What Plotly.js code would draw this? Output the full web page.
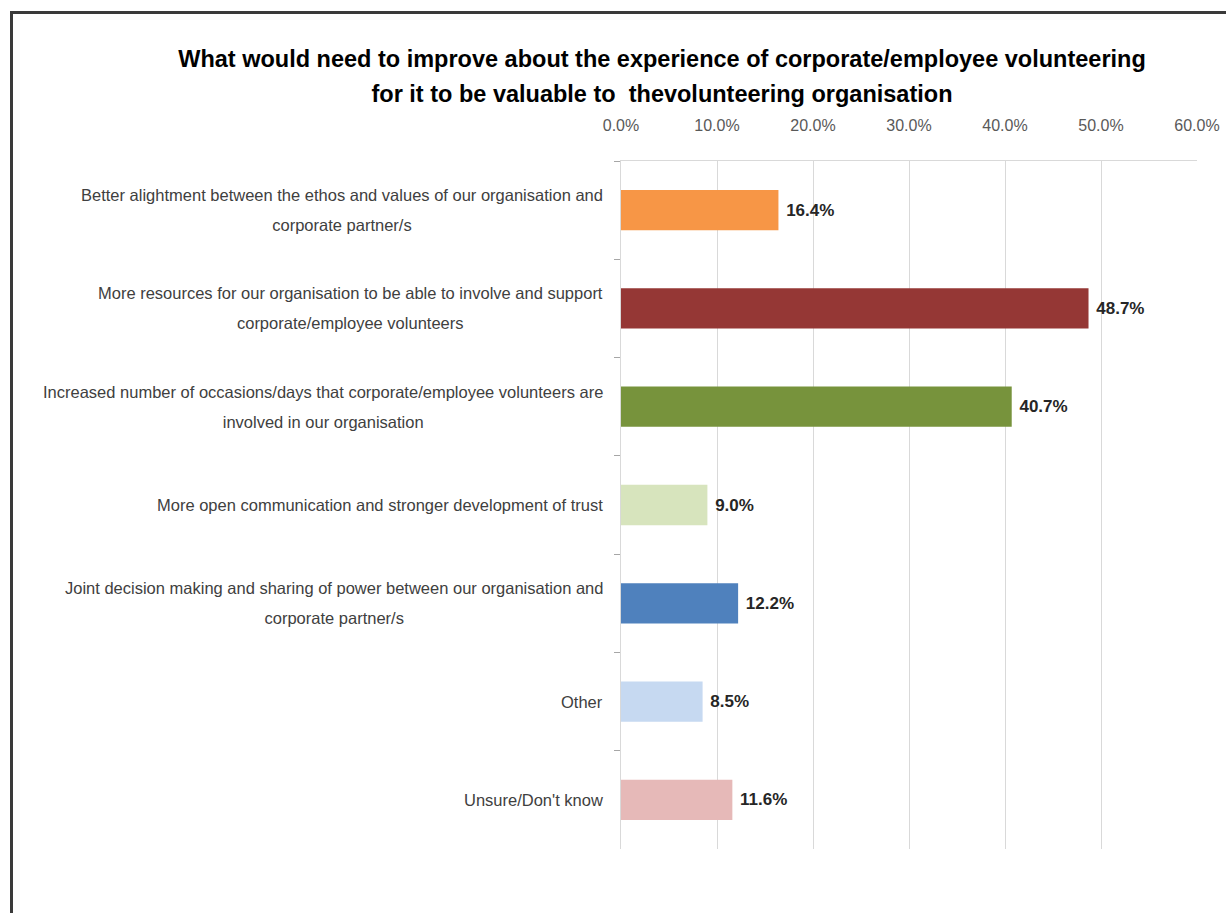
<!DOCTYPE html>
<html>
<head>
<meta charset="utf-8">
<script src="https://cdn.plot.ly/plotly-3.0.1.min.js"></script>
<style>
  html, body { margin: 0; padding: 0; background: #ffffff; }
  #chart { width: 1226px; height: 913px; }
</style>
</head>
<body>
<div id="chart"></div>
<script>
const categories = [
  "Better alightment between the ethos and values of our organisation and<br>corporate partner/s",
  "More resources for our organisation to be able to involve and support<br>corporate/employee volunteers",
  "Increased number of occasions/days that corporate/employee volunteers are<br>involved in our organisation",
  "More open communication and stronger development of trust",
  "Joint decision making and sharing of power between our organisation and<br>corporate partner/s",
  "Other",
  "Unsure/Don't know"
];
const values = [16.4, 48.7, 40.7, 9.0, 12.2, 8.5, 11.6];
const barColors = ["#F79646", "#953735", "#77933C", "#D7E4BD", "#4F81BD", "#C6D9F1", "#E6B9B8"];
const tickValues = [0, 10, 20, 30, 40, 50, 60];
const tickLabels = ["0.0%", "10.0%", "20.0%", "30.0%", "40.0%", "50.0%", "60.0%"];

const titleLines = [
  "What would need to improve about the experience of corporate/employee volunteering",
  "for it to be valuable to  thevolunteering organisation"
];

const FONT = "'Liberation Sans Narrow', 'Arial Narrow', 'Liberation Sans', Arial, sans-serif";

const trace = {
  type: "bar",
  orientation: "h",
  y: categories,
  x: values,
  marker: { color: barColors, line: { width: 0 } },
  width: 0.41,
  text: values.map(v => v.toFixed(1) + "%"),
  texttemplate: "\u00a0%{text}",
  textposition: "outside",
  cliponaxis: false,
  textfont: { family: FONT, size: 17, color: "#262626", weight: "bold" },
  hoverinfo: "skip"
};

// category labels as centered annotations (taller line spacing via span trick)
const annotations = categories.map(c => ({
  xref: "paper", yref: "y",
  x: 0, y: c,
  xanchor: "right", yanchor: "middle",
  xshift: -16,
  align: "center",
  showarrow: false,
  text: c.split("<br>").map(s => "<span style='font-size:16.5px'>" + s + "</span>").join("<br>"),
  font: { family: FONT, size: 23, color: "#404040" }
}));

const px = p => (p - 621) / 576;
const py = p => (849 - p) / 688;

const layout = {
  width: 1226, height: 913,
  paper_bgcolor: "#ffffff",
  plot_bgcolor: "#ffffff",
  margin: { l: 621, r: 29, t: 161, b: 64 },
  showlegend: false,
  title: {
    text: titleLines.map(s => "<span style='font-size:23.5px'>" + s + "</span>").join("<br>"),
    xref: "container", yref: "container",
    x: 662 / 1226, xanchor: "center",
    y: 1 - 67 / 913, yanchor: "top",
    font: { family: FONT, size: 27, color: "#000000", weight: "bold" }
  },
  xaxis: {
    side: "top",
    range: [0, 60],
    tickvals: tickValues,
    ticktext: tickLabels,
    showgrid: true,
    gridcolor: "#d9d9d9",
    gridwidth: 1,
    zeroline: false,
    showline: true,
    linecolor: "#d9d9d9",
    linewidth: 1,
    ticks: "",
    ticklabelstandoff: 23,
    tickfont: { family: FONT, size: 16, color: "#595959" },
    fixedrange: true
  },
  yaxis: {
    type: "category",
    autorange: "reversed",
    showticklabels: false,
    showgrid: false,
    zeroline: false,
    showline: true,
    linecolor: "#d9d9d9",
    linewidth: 1,
    ticks: "outside",
    tickson: "boundaries",
    ticklen: 6,
    tickcolor: "#a6a6a6",
    fixedrange: true
  },
  annotations: annotations,
  shapes: [
    { type: "line", xref: "paper", yref: "paper", x0: px(10), x1: px(1240), y0: py(12.5), y1: py(12.5),
      line: { color: "#3a3a3a", width: 3 } },
    { type: "line", xref: "paper", yref: "paper", x0: px(11.5), x1: px(11.5), y0: py(11), y1: py(920),
      line: { color: "#3a3a3a", width: 3 } }
  ]
};

Plotly.newPlot("chart", [trace], layout, { displayModeBar: false, staticPlot: true });
</script>
</body>
</html>
